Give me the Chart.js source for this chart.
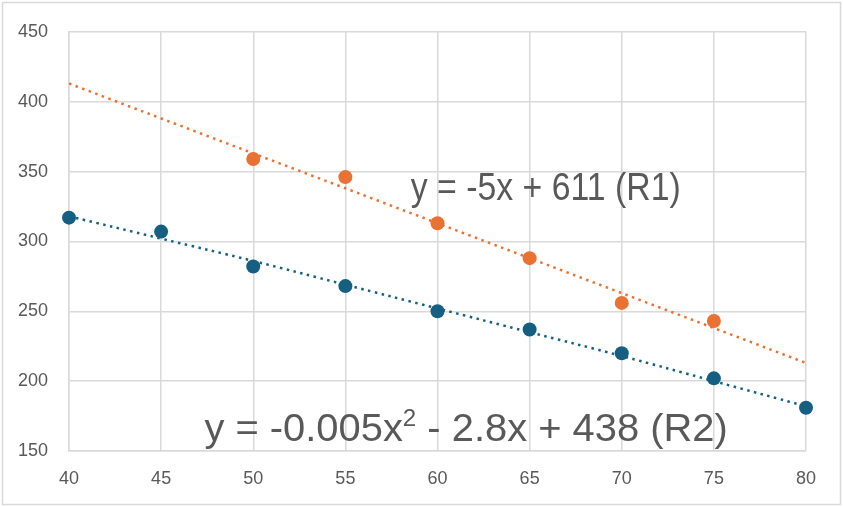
<!DOCTYPE html>
<html>
<head>
<meta charset="utf-8">
<script src="https://cdn.jsdelivr.net/npm/chart.js@4/dist/chart.umd.min.js"></script>
<style>
  html, body { margin: 0; padding: 0; background: #fff; }
</style>
</head>
<body>
<canvas id="chart" width="843" height="507"></canvas>
<script>
// values
const xValues = [40, 45, 50, 55, 60, 65, 70, 75, 80];
const r1X = [50, 55, 60, 65, 70, 75];
const r1Y = [359, 346, 313, 288, 256, 243];
const r2Y = [317, 307, 282, 268, 250, 237, 220, 202, 181];
const r1TrendX = [40, 80];
const r1TrendY = [413, 213];
const r2TrendY = [318, 302, 286, 269, 252, 235, 218, 200, 182];
const yTicks = [150, 200, 250, 300, 350, 400, 450];

const orange = '#E97132';
const blue = '#156082';
const textColor = '#595959';
const gridColor = '#d9d9d9';

const toPoints = (xs, ys) => xs.map((x, i) => ({ x: x, y: ys[i] }));

// equation labels, anchored in data coordinates
const labels = [
  { parts: [['y = -5x + 611 (R1)', false]], x: 58.55, y: 329.5, xEnd: 73.2 },
  { parts: [['y = -0.005x', false], ['2', true], [' - 2.8x + 438 (R2)', false]], x: 47.35, y: 157.5, xEnd: 75.75 }
];

const frameAndLabels = {
  id: 'frameAndLabels',
  beforeDraw(chart) {
    const ctx = chart.ctx;
    ctx.save();
    ctx.fillStyle = '#fff';
    ctx.fillRect(0, 0, chart.width, chart.height);
    ctx.restore();
  },
  afterDraw(chart) {
    const ctx = chart.ctx;
    const xs = chart.scales.x, ys = chart.scales.y;
    ctx.save();
    ctx.strokeStyle = gridColor;
    ctx.lineWidth = 1.5;
    ctx.strokeRect(2.5, 2.5, chart.width - 5, chart.height - 5);
    ctx.fillStyle = textColor;
    ctx.textBaseline = 'alphabetic';
    ctx.textAlign = 'left';
    const big = '38px "Liberation Sans", Arial, sans-serif';
    const small = '23px "Liberation Sans", Arial, sans-serif';
    labels.forEach(l => {
      let natural = 0;
      l.parts.forEach(([t, sup]) => { ctx.font = sup ? small : big; natural += ctx.measureText(t).width; });
      const x0 = xs.getPixelForValue(l.x);
      const x1 = xs.getPixelForValue(l.xEnd);
      const y0 = ys.getPixelForValue(l.y);
      ctx.save();
      ctx.translate(x0, y0);
      ctx.scale((x1 - x0) / natural, 1);
      let cx = 0;
      l.parts.forEach(([t, sup]) => {
        ctx.font = sup ? small : big;
        ctx.fillText(t, cx, sup ? -15 : 0);
        cx += ctx.measureText(t).width;
      });
      ctx.restore();
    });
    ctx.restore();
  }
};

new Chart(document.getElementById('chart'), {
  type: 'scatter',
  data: {
    datasets: [
      {
        label: 'R1',
        data: toPoints(r1X, r1Y),
        backgroundColor: orange,
        borderWidth: 0,
        pointRadius: 7,
        clip: false,
        order: 0
      },
      {
        label: 'R2',
        data: toPoints(xValues, r2Y),
        backgroundColor: blue,
        borderWidth: 0,
        pointRadius: 7,
        clip: false,
        order: 0
      },
      {
        label: 'R1 trend',
        data: toPoints(r1TrendX, r1TrendY),
        showLine: true,
        borderColor: orange,
        borderWidth: 2.5,
        borderDash: [2.5, 4.5],
        pointRadius: 0,
        order: 1
      },
      {
        label: 'R2 trend',
        data: toPoints(xValues, r2TrendY),
        showLine: true,
        borderColor: blue,
        borderWidth: 2.5,
        borderDash: [2.5, 4.5],
        tension: 0.4,
        pointRadius: 0,
        order: 1
      }
    ]
  },
  options: {
    responsive: false,
    animation: false,
    layout: { padding: { left: 0, top: 28, right: 37, bottom: 0 } },
    plugins: {
      legend: { display: false },
      tooltip: { enabled: false }
    },
    scales: {
      x: {
        type: 'linear',
        min: 40,
        max: 80,
        afterFit: s => { s.height = 56; },
        afterBuildTicks: s => { s.ticks = xValues.map(v => ({ value: v })); },
        grid: { color: gridColor, lineWidth: 1.5, drawTicks: false },
        border: { color: gridColor, width: 1.5 },
        ticks: { color: textColor, padding: 17, font: { family: '"Liberation Sans", Arial, sans-serif', size: 18 } }
      },
      y: {
        min: 150,
        max: 450,
        afterFit: s => { s.width = 69; },
        afterBuildTicks: s => { s.ticks = yTicks.map(v => ({ value: v })); },
        grid: { color: gridColor, lineWidth: 1.5, drawTicks: false },
        border: { color: gridColor, width: 1.5 },
        ticks: { color: textColor, padding: 21, font: { family: '"Liberation Sans", Arial, sans-serif', size: 18 } }
      }
    }
  },
  plugins: [frameAndLabels]
});
</script>
</body>
</html>
